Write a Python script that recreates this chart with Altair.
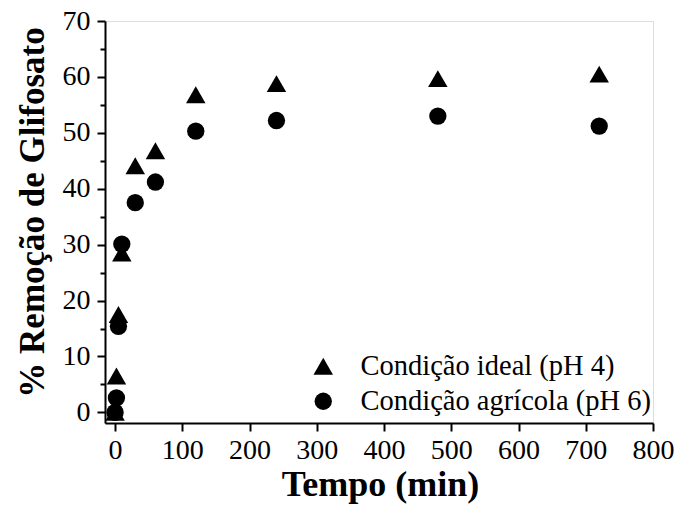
import altair as alt
import pandas as pd

tempo = [0, 2, 5, 10, 30, 60, 120, 240, 480, 720]
ideal = [0.0, 6.5, 17.5, 28.5, 44.1, 46.8, 56.8, 58.8, 59.7, 60.5]
agricola = [0.0, 2.6, 15.4, 30.1, 37.5, 41.2, 50.3, 52.2, 53.0, 51.2]
series = ["Condição ideal (pH 4)", "Condição agrícola (pH 6)"]
x_ticks = [0, 100, 200, 300, 400, 500, 600, 700, 800]
y_ticks = [0, 10, 20, 30, 40, 50, 60, 70]
y_minor = [5, 15, 25, 35, 45, 55, 65]

rows = []
for t, v in zip(tempo, ideal):
    rows.append({"tempo": t, "remocao": v, "serie": series[0]})
for t, v in zip(tempo, agricola):
    rows.append({"tempo": t, "remocao": v, "serie": series[1]})
df = pd.DataFrame(rows)

FONT = "Liberation Serif"

xscale = alt.Scale(domain=[-15, 800], nice=False, zero=False)
yscale = alt.Scale(domain=[-1.9, 70], nice=False, zero=False)

xaxis = alt.Axis(values=x_ticks, title="Tempo (min)", grid=False,
                 tickSize=8, tickWidth=2, domainWidth=2,
                 domainColor="black", tickColor="black",
                 labelFont=FONT, labelFontSize=28, labelColor="black",
                 labelPadding=5, labelFlush=False, labelOverlap=False,
                 titleFont=FONT, titleFontSize=36, titleFontWeight="bold",
                 titleColor="black", titleX=275, titleY=72,
                 titleBaseline="alphabetic", titleAnchor="middle",
                 titleAlign="center")

leg = alt.Legend(title=None, orient="none", legendX=204, legendY=331,
                 labelFont=FONT, labelFontSize=28.5, labelColor="black",
                 labelLimit=0, labelOffset=23, rowPadding=6, padding=0,
                 symbolFillColor="black", symbolStrokeColor="black",
                 symbolStrokeWidth=0)

main = alt.Chart(df).mark_point(filled=True, opacity=1, color="black").encode(
    x=alt.X("tempo:Q", scale=xscale, axis=xaxis),
    y=alt.Y("remocao:Q", scale=yscale,
            axis=alt.Axis(values=y_ticks, title="% Remoção de Glifosato", grid=False,
                          tickSize=8, tickWidth=2, domainWidth=2,
                          domainColor="black", tickColor="black",
                          labelFont=FONT, labelFontSize=28, labelColor="black",
                          labelPadding=7, labelFlush=False, labelOverlap=False,
                          titleFont=FONT, titleFontSize=35, titleFontWeight="bold",
                          titleColor="black", titleAngle=270, titleX=-62, titleY=191,
                          titleBaseline="alphabetic", titleAlign="center")),
    shape=alt.Shape("serie:N", scale=alt.Scale(domain=series, range=["triangle-up", "circle"]),
                    legend=leg),
    size=alt.Size("serie:N", scale=alt.Scale(domain=series, range=[380, 300]),
                  legend=leg),
)

minor = alt.Chart(df).mark_point(opacity=0).encode(
    x=alt.X("tempo:Q", scale=xscale, axis=xaxis),
    y=alt.Y("remocao:Q", scale=yscale,
            axis=alt.Axis(values=y_minor, orient="left", labels=False, domain=False,
                          grid=False, tickSize=5, tickWidth=2, tickColor="black",
                          title=None)),
)

chart = alt.layer(main, minor).resolve_axis(y="independent").properties(
    width=548, height=402,
    autosize=alt.AutoSizeParams(type="none"),
    padding={"left": 105, "top": 21, "right": 26, "bottom": 86},
).configure_view(stroke=None).configure(background="white", font=FONT).configure_legend(
    labelFont=FONT, labelLimit=0
).configure_axis(labelFont=FONT, titleFont=FONT)

chart.save("out.html", embed_options={"renderer": "svg", "actions": False})
